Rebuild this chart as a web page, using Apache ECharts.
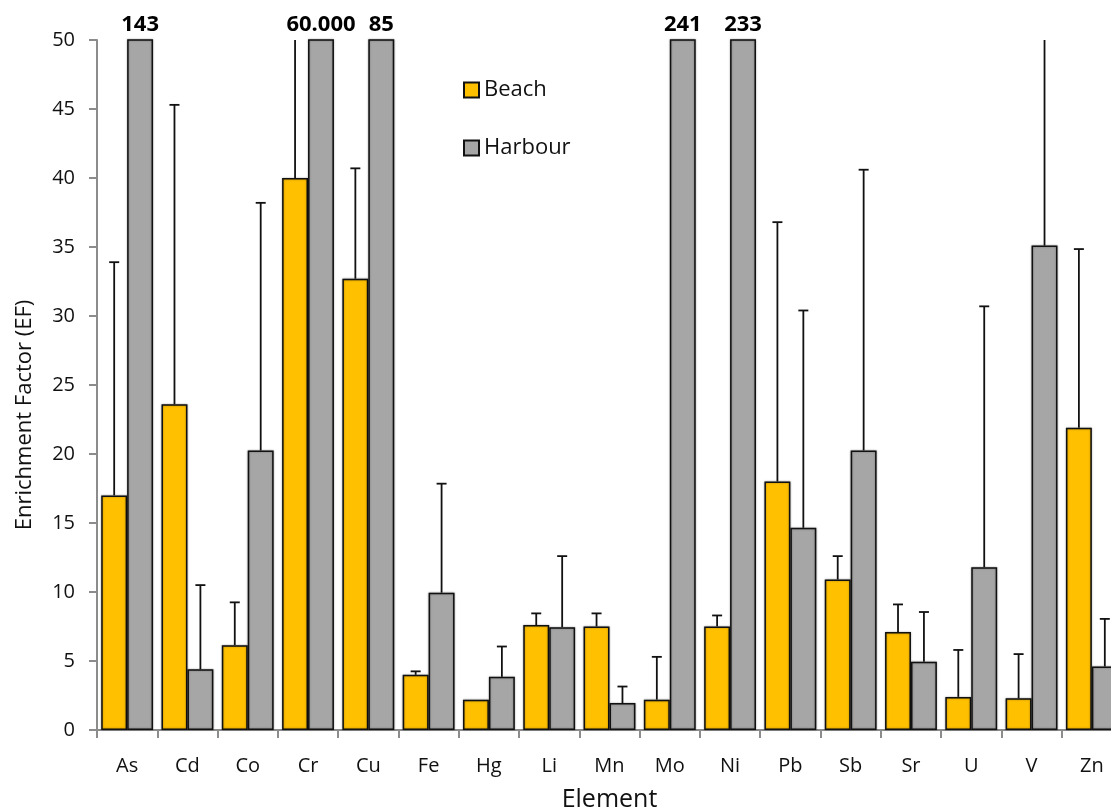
<!DOCTYPE html>
<html>
<head>
<meta charset="utf-8">
<script src="https://cdn.jsdelivr.net/npm/echarts@6/dist/echarts.min.js"></script>
<style>
  html, body { margin: 0; padding: 0; background: #fff; }
  #chart { width: 1111px; height: 811px; }
</style>
</head>
<body>
<div id="chart"></div>
<script>
// Element categories
const elements = ['As', 'Cd', 'Co', 'Cr', 'Cu', 'Fe', 'Hg', 'Li', 'Mn', 'Mo', 'Ni', 'Pb', 'Sb', 'Sr', 'U', 'V', 'Zn'];

// Mean enrichment factors
const beach   = [17.0, 23.6, 6.15, 40.0, 32.7, 4.0, 2.2, 7.6, 7.5, 2.2, 7.5, 18.0, 10.9, 7.1, 2.4, 2.3, 21.9];
const harbour = [143, 4.4, 20.25, 60000, 85, 9.95, 3.85, 7.45, 1.95, 241, 233, 14.65, 20.25, 4.95, 11.8, 35.1, 4.6];

// Upper end of the error bars (mean + SD); null = no bar shown
const beachUpper   = [33.9, 45.3, 9.25, 70, 40.7, 4.25, null, 8.45, 8.45, 5.3, 8.3, 36.8, 12.6, 9.1, 5.8, 5.5, 34.85];
const harbourUpper = [null, 10.5, 38.2, null, null, 17.85, 6.05, 12.6, 3.15, null, null, 30.4, 40.6, 8.55, 30.7, 68, 8.05];

// Y axis ticks
const yMin = 0, yMax = 50, yStep = 5;

const FONT = '"Open Sans", "Liberation Sans", sans-serif';
const CAT_GAP = 0.14;

function errorData(upper, means) {
  const out = [];
  upper.forEach((u, i) => { if (u != null) out.push([i, u, means[i]]); });
  return out;
}

// Vertical error whisker with a cap, drawn over the matching bar
function errorRenderer(side) {
  return function (params, api) {
    const idx = api.value(0);
    const band = api.size([1, 0])[0];
    const barW = band * (1 - CAT_GAP) / 2;
    const top = api.coord([idx, api.value(1)]);
    const base = api.coord([idx, api.value(2)]);
    const cx = top[0] + side * barW / 2;
    const cs = params.coordSys;
    let ty = top[1];
    let clipped = false;
    if (ty < cs.y) { ty = cs.y; clipped = true; }
    const style = { stroke: '#111', lineWidth: 1.8 };
    const children = [{ type: 'line', shape: { x1: cx, y1: base[1], x2: cx, y2: ty }, style }];
    if (!clipped) {
      children.push({ type: 'line', shape: { x1: cx - 5, y1: ty, x2: cx + 5, y2: ty }, style });
    }
    return { type: 'group', children };
  };
}

function thousands(v) {
  return String(Math.round(v)).replace(/\B(?=(\d{3})+(?!\d))/g, '.');
}

const barStyle = (color) => ({
  color,
  borderColor: '#111',
  borderWidth: 1.5,
  shadowBlur: 2,
  shadowColor: 'rgba(0,0,0,0.35)'
});

const chart = echarts.init(document.getElementById('chart'), null, { renderer: 'canvas' });
chart.setOption({
  animation: false,
  backgroundColor: '#fff',
  textStyle: { fontFamily: FONT },
  grid: { left: 97, top: 40, height: 690, width: 1025, containLabel: false, outerBoundsMode: 'none' },
  legend: {
    orient: 'vertical',
    left: 458,
    top: 74,
    itemWidth: 15,
    itemHeight: 15,
    itemGap: 36,
    icon: 'rect',
    textStyle: { fontFamily: FONT, fontSize: 22, color: '#111' },
    data: ['Beach', 'Harbour']
  },
  xAxis: {
    type: 'category',
    data: elements,
    name: 'Element',
    nameLocation: 'middle',
    nameGap: 57,
    nameTextStyle: { fontFamily: FONT, fontSize: 25, color: '#111' },
    axisLine: { lineStyle: { color: '#8c8c8c', width: 2 } },
    axisTick: { show: true, length: 8, lineStyle: { color: '#8c8c8c', width: 2 } },
    axisLabel: { fontFamily: FONT, fontSize: 20, color: '#111', margin: 26 }
  },
  yAxis: {
    type: 'value',
    min: yMin,
    max: yMax,
    interval: yStep,
    axisLine: { show: true, lineStyle: { color: '#8c8c8c', width: 2 } },
    axisTick: { show: true, length: 8, lineStyle: { color: '#8c8c8c', width: 2 } },
    axisLabel: { fontFamily: FONT, fontSize: 20, color: '#111', margin: 22 },
    splitLine: { show: false }
  },
  graphic: [{
    type: 'text',
    x: 25,
    y: 415,
    rotation: Math.PI / 2,
    style: {
      text: 'Enrichment Factor (EF)',
      font: '22px ' + FONT,
      fill: '#111',
      align: 'center',
      verticalAlign: 'middle'
    }
  }],
  series: [
    {
      name: 'Beach',
      type: 'bar',
      data: beach,
      barGap: '0%',
      barCategoryGap: (CAT_GAP * 100) + '%',
      itemStyle: barStyle('#FFC000'),
      clip: true
    },
    {
      name: 'Harbour',
      type: 'bar',
      data: harbour,
      barGap: '0%',
      barCategoryGap: (CAT_GAP * 100) + '%',
      itemStyle: barStyle('#A6A6A6'),
      clip: true,
      label: {
        show: true,
        position: 'top',
        distance: 4,
        fontFamily: FONT,
        fontSize: 22,
        fontWeight: 'bold',
        color: '#000',
        formatter: (p) => (p.value > yMax ? thousands(p.value) : '')
      }
    },
    {
      name: 'Beach error',
      type: 'custom',
      renderItem: errorRenderer(-1),
      data: errorData(beachUpper, beach),
      encode: { x: 0, y: 1 },
      z: 5,
      silent: true
    },
    {
      name: 'Harbour error',
      type: 'custom',
      renderItem: errorRenderer(1),
      data: errorData(harbourUpper, harbour),
      encode: { x: 0, y: 1 },
      z: 5,
      silent: true
    }
  ]
});
</script>
</body>
</html>
